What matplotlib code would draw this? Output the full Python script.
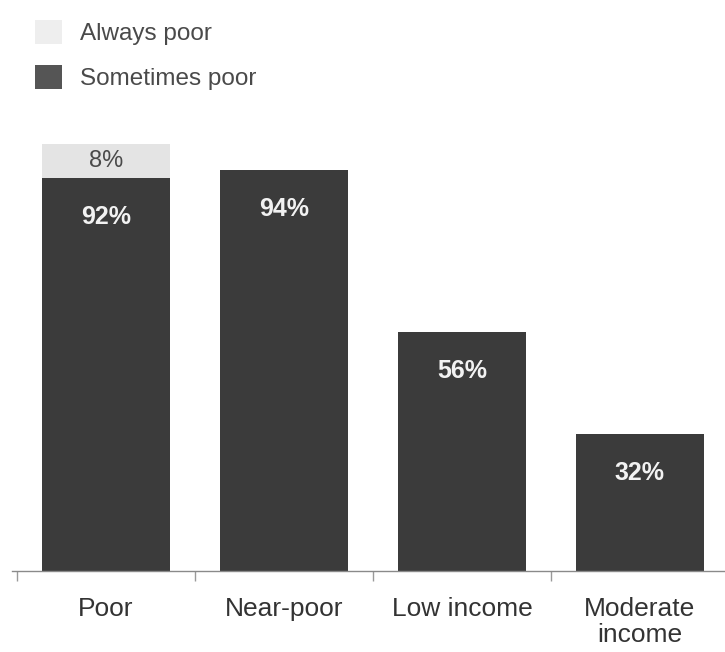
import matplotlib
matplotlib.use("Agg")
import matplotlib.pyplot as plt
from matplotlib.patches import Patch

categories = ["Poor", "Near-poor", "Low income", "Moderate\nincome"]
sometimes_poor = [92, 94, 56, 32]
always_poor = [8, 0, 0, 0]
series_names = ["Always poor", "Sometimes poor"]

plt.rcParams['font.family'] = ['Liberation Sans', 'DejaVu Sans']

dark = "#3b3b3b"
light = "#e4e4e4"

fig = plt.figure(figsize=(7.25, 6.52), dpi=100)
ax = fig.add_axes([0.0166, 0.1242, 0.9834, 0.7204])

x = list(range(len(categories)))
width = 0.72
ax.bar(x, sometimes_poor, width=width, color=dark)
ax.bar(x, always_poor, width=width, bottom=sometimes_poor, color=light)

for xi, v in zip(x, sometimes_poor):
    ax.annotate(f"{v}%", (xi, v), xytext=(0, -28), textcoords="offset points",
                ha="center", va="center", color="#f2f2f2", fontsize=18,
                fontweight="bold")
for xi, s, a in zip(x, sometimes_poor, always_poor):
    if a > 0:
        ax.text(xi, s + a / 2, f"{a}%", ha="center", va="center",
                color="#4a4a4a", fontsize=17)

ax.set_xlim(-0.528, 3.478)
ax.set_ylim(0, 110)
ax.set_yticks([])
for s in ["left", "top", "right"]:
    ax.spines[s].set_visible(False)
ax.spines["bottom"].set_color("#8a8a8a")
ax.spines["bottom"].set_linewidth(1.0)

ax.set_xticks(x)
ax.set_xticklabels(categories, fontsize=19, color="#333333", linespacing=1.08)
ax.tick_params(axis="x", which="major", length=0, pad=19)
ax.set_xticks([i - 0.5 for i in x], minor=True)
ax.tick_params(axis="x", which="minor", length=7, color="#9a9a9a", width=1.0)

handles = [Patch(facecolor="#eeeeee", edgecolor="none"),
           Patch(facecolor="#555555", edgecolor="none")]
fig.legend(handles, series_names, loc="upper left",
           bbox_to_anchor=(35 / 725, 1 - 20 / 652), frameon=False,
           fontsize=17.5, handlelength=1.1, handleheight=1.15,
           handletextpad=0.75, labelspacing=0.8, borderpad=0,
           borderaxespad=0, labelcolor="#4a4a4a")

fig.savefig("out.png", dpi=100, facecolor="white")
